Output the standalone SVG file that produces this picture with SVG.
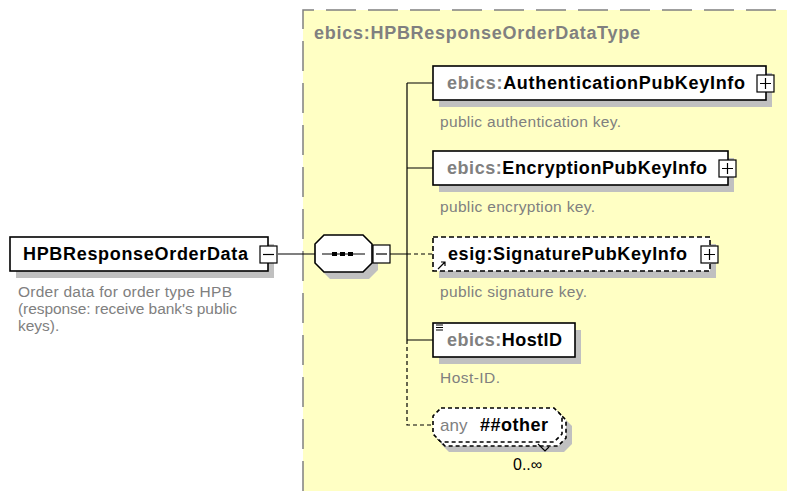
<svg xmlns="http://www.w3.org/2000/svg" width="787" height="491" viewBox="0 0 787 491">
<style>
.t{font-family:"Liberation Sans",Arial,sans-serif}
.b{font-weight:bold;font-size:18px}
.g{fill:#808080}
.k{fill:#000}
.d{font-size:15.5px;fill:#808080}
.box{fill:#fff;stroke:#000;stroke-width:1.6}
.sh{fill:#c0c0c0}
.btn{fill:#fff;stroke:#000;stroke-width:1.2}
.ln{stroke:#000;stroke-width:1.2;fill:none}
.dash{stroke-dasharray:4,3}
</style>
<rect width="787" height="491" fill="#fff"/>
<g id="type">
<rect x="303" y="10" width="484" height="481" fill="#ffffc4"/>
<path d="M303,491 V10 H787" fill="none" stroke="#808080" stroke-width="1.5" stroke-dasharray="30,12"/>
<text class="t b g" x="314" y="39" textLength="326" lengthAdjust="spacing">ebics:HPBResponseOrderDataType</text>
</g>
<g id="connectors">
<path class="ln" d="M278,254 H315 M390,254 H407 M407,83 V340 M407,83 H433 M407,168 H433 M407,340 H433"/>
<path class="ln dash" d="M407,254 H433 M407,340 V425 H433"/>
</g>
<g id="root">
<rect class="sh" x="16" y="244" width="258" height="34"/>
<rect class="box" x="10" y="237" width="258" height="34"/>
<text class="t b k" x="23" y="260" textLength="225" lengthAdjust="spacing">HPBResponseOrderData</text>
<rect class="btn" x="260" y="246" width="17" height="17"/>
<path class="ln" d="M263,254.5 H274"/>
<text class="t d" x="18" y="297" textLength="214" lengthAdjust="spacing">Order data for order type HPB</text>
<text class="t d" x="18" y="314" textLength="219" lengthAdjust="spacing">(response: receive bank's public</text>
<text class="t d" x="18" y="331">keys).</text>
</g>
<g id="sequence">
<polygon class="sh" points="330,242 369,242 378,251 378,270 369,279 330,279 321,270 321,251"/>
<polygon class="box" points="324,235 363,235 372,244 372,263 363,272 324,272 315,263 315,244"/>
<path class="ln" d="M322,254 H365"/>
<rect x="332" y="252" width="5" height="4"/>
<rect x="340" y="252" width="5" height="4"/>
<rect x="348" y="252" width="5" height="4"/>
<rect class="btn" x="373" y="245" width="17" height="18"/>
<path class="ln" d="M376,254 H387"/>
</g>
<g id="auth">
<rect class="sh" x="439" y="73" width="333" height="34"/>
<rect class="box" x="433" y="66" width="333" height="34"/>
<text class="t b" x="447" y="89" textLength="298" lengthAdjust="spacing"><tspan class="g">ebics:</tspan><tspan class="k">AuthenticationPubKeyInfo</tspan></text>
<rect class="btn" x="757" y="75" width="17" height="17"/>
<path class="ln" d="M760,83.5 H771 M765.5,78 V89"/>
<text class="t d" x="440" y="127" textLength="181" lengthAdjust="spacing">public authentication key.</text>
</g>
<g id="encr">
<rect class="sh" x="439" y="158" width="295" height="34"/>
<rect class="box" x="433" y="151" width="295" height="34"/>
<text class="t b" x="447" y="174" textLength="260" lengthAdjust="spacing"><tspan class="g">ebics:</tspan><tspan class="k">EncryptionPubKeyInfo</tspan></text>
<rect class="btn" x="719" y="160" width="17" height="17"/>
<path class="ln" d="M722,168.5 H733 M727.5,163 V174"/>
<text class="t d" x="440" y="212" textLength="155" lengthAdjust="spacing">public encryption key.</text>
</g>
<g id="sig">
<rect class="sh" x="439" y="244" width="277" height="34"/>
<rect class="box" x="433" y="237" width="277" height="34" stroke-dasharray="5,3"/>
<text class="t b k" x="448" y="260" textLength="239" lengthAdjust="spacing">esig:SignaturePubKeyInfo</text>
<path class="ln" d="M438,269 L445,262 M441,262 H445 V266"/>
<rect class="btn" x="701" y="246" width="17" height="17"/>
<path class="ln" d="M704,254.5 H715 M709.5,249 V260"/>
<text class="t d" x="440" y="297" textLength="147" lengthAdjust="spacing">public signature key.</text>
</g>
<g id="hostid">
<rect class="sh" x="439" y="330" width="142" height="34"/>
<rect class="box" x="433" y="323" width="142" height="34"/>
<path class="ln" d="M436,325 H443 M436,327.5 H443 M436,330 H443"/>
<text class="t b" x="447" y="346" textLength="115" lengthAdjust="spacing"><tspan class="g">ebics:</tspan><tspan class="k">HostID</tspan></text>
<text class="t d" x="440" y="383" textLength="60" lengthAdjust="spacing">Host-ID.</text>
</g>
<g id="any">
<polygon class="sh" points="449,418 564,418 572,426 572,444 564,452 449,452 441,444 441,426"/>
<polygon class="box dash" points="445,412 558,412 566,420 566,438 558,446 445,446 437,438 437,420"/>
<polygon class="box dash" points="441,408 554,408 562,416 562,434 554,442 441,442 433,434 433,416"/>
<text class="t" x="440" y="431" font-size="17" fill="#808080">any</text>
<text class="t b k" x="480" y="431" textLength="68" lengthAdjust="spacing">##other</text>
<path class="ln" d="M538,444 L545,451 L549,447"/>
<text class="t" x="513" y="470" font-size="16" fill="#000">0..∞</text>
</g>
</svg>
